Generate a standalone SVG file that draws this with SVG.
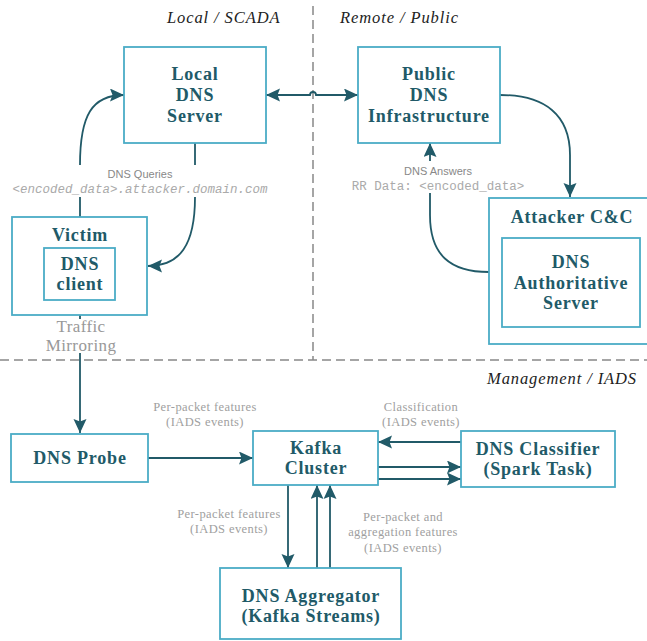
<svg xmlns="http://www.w3.org/2000/svg" width="647" height="641" viewBox="0 0 647 641">
<defs>
<marker id="ah" markerUnits="userSpaceOnUse" markerWidth="16" markerHeight="14" refX="14" refY="6.5" orient="auto-start-reverse">
<path d="M0,0 L14,6.5 L0,13 L2.5,6.5 z" fill="#215a68"/>
</marker>
<style>
.box{fill:#fff;stroke:#4bacc6;stroke-width:1.8}
.nt{font-family:"Liberation Serif",serif;font-weight:bold;font-size:18px;fill:#215a68;text-anchor:middle;letter-spacing:0.8px}
.region{font-family:"Liberation Serif",serif;font-style:italic;font-size:16.5px;fill:#222;letter-spacing:0.9px}
.gl{font-family:"Liberation Serif",serif;font-size:12.5px;fill:#a0a0a0;text-anchor:middle;letter-spacing:0.4px}
.gb{font-family:"Liberation Serif",serif;font-size:17px;fill:#999;text-anchor:middle;letter-spacing:0.4px}
.gs{font-family:"Liberation Sans",sans-serif;font-size:11px;fill:#888;text-anchor:middle}
.gm{font-family:"Liberation Mono",monospace;font-size:12.5px;fill:#aaa;text-anchor:middle}
.conn{fill:none;stroke:#215a68;stroke-width:1.8}
.div{fill:none;stroke:#888;stroke-width:1.5;stroke-dasharray:9 5}
</style>
</defs>
<rect width="647" height="641" fill="#fff"/>
<g id="dividers">
<path class="div" d="M313,6 V360"/>
<path class="div" d="M0,360 H647"/>
</g>
<g id="region-labels">
<text class="region" x="167" y="23">Local / SCADA</text>
<text class="region" x="340" y="23">Remote / Public</text>
<text class="region" x="487" y="384">Management / IADS</text>
</g>
<g id="connectors">
<path class="conn" d="M266,95 H310 A3,3 0 0 1 316,95 H358" marker-start="url(#ah)" marker-end="url(#ah)"/>
<path class="conn" d="M80,217 V197"/>
<path class="conn" d="M80,165 C80,115 92,95 124,95" marker-end="url(#ah)"/>
<path class="conn" d="M195,143 V165"/>
<path class="conn" d="M195,197 C195,245 180,266 148,266" marker-end="url(#ah)"/>
<path class="conn" d="M500,95 C545,95 570,115 570,155 V197" marker-end="url(#ah)"/>
<path class="conn" d="M489,272 C450,272 430,255 430,215 V193"/>
<path class="conn" d="M430,161 V143" marker-end="url(#ah)"/>
<path class="conn" d="M80,315 V319"/>
<path class="conn" d="M80,353 V433" marker-end="url(#ah)"/>
<path class="conn" d="M148,458 H253" marker-end="url(#ah)"/>
<path class="conn" d="M461,442 H378" marker-end="url(#ah)"/>
<path class="conn" d="M378,467 H461" marker-end="url(#ah)"/>
<path class="conn" d="M378,479 H461" marker-end="url(#ah)"/>
<path class="conn" d="M288,485 V568" marker-end="url(#ah)"/>
<path class="conn" d="M317,568 V485" marker-end="url(#ah)"/>
<path class="conn" d="M330,568 V485" marker-end="url(#ah)"/>
</g>
<g id="connector-labels">
<text class="gs" x="140" y="178">DNS Queries</text>
<text class="gm" x="140" y="193" font-style="italic">&lt;encoded_data&gt;.attacker.domain.com</text>
<text class="gs" x="438" y="175">DNS Answers</text>
<text class="gm" x="438" y="190">RR Data: &lt;encoded_data&gt;</text>
<text class="gb" x="81" y="332">Traffic</text>
<text class="gb" x="81" y="351">Mirroring</text>
<text class="gl" x="205" y="411">Per-packet features</text>
<text class="gl" x="205" y="426">(IADS events)</text>
<text class="gl" x="421" y="411">Classification</text>
<text class="gl" x="421" y="426">(IADS events)</text>
<text class="gl" x="229" y="518">Per-packet features</text>
<text class="gl" x="229" y="533">(IADS events)</text>
<text class="gl" x="403" y="521">Per-packet and</text>
<text class="gl" x="403" y="536">aggregation features</text>
<text class="gl" x="403" y="552">(IADS events)</text>
</g>
<g id="local-dns">
<rect class="box" x="124" y="47" width="142" height="96"/>
<text class="nt" x="195" y="80">Local</text>
<text class="nt" x="195" y="101">DNS</text>
<text class="nt" x="195" y="122">Server</text>
</g>
<g id="public-dns">
<rect class="box" x="358" y="47" width="142" height="96"/>
<text class="nt" x="429" y="80">Public</text>
<text class="nt" x="429" y="101">DNS</text>
<text class="nt" x="429" y="122">Infrastructure</text>
</g>
<g id="victim">
<rect class="box" x="12" y="217" width="135" height="98"/>
<text class="nt" x="80" y="241">Victim</text>
<rect class="box" x="44" y="248" width="71" height="52"/>
<text class="nt" x="80" y="270">DNS</text>
<text class="nt" x="80" y="290">client</text>
</g>
<g id="attacker">
<rect class="box" x="489" y="198" width="170" height="146"/>
<text class="nt" x="572" y="223">Attacker C&amp;C</text>
<rect class="box" x="502" y="238" width="138" height="89"/>
<text class="nt" x="571" y="268">DNS</text>
<text class="nt" x="571" y="289">Authoritative</text>
<text class="nt" x="571" y="309">Server</text>
</g>
<g id="dns-probe">
<rect class="box" x="11" y="434" width="137" height="48"/>
<text class="nt" x="80" y="464">DNS Probe</text>
</g>
<g id="kafka">
<rect class="box" x="253" y="431" width="125" height="54"/>
<text class="nt" x="316" y="454">Kafka</text>
<text class="nt" x="316" y="474">Cluster</text>
</g>
<g id="classifier">
<rect class="box" x="461" y="431" width="154" height="56"/>
<text class="nt" x="538" y="455">DNS Classifier</text>
<text class="nt" x="538" y="475">(Spark Task)</text>
</g>
<g id="aggregator">
<rect class="box" x="220" y="568" width="181" height="71"/>
<text class="nt" x="311" y="602">DNS Aggregator</text>
<text class="nt" x="311" y="622">(Kafka Streams)</text>
</g>
</svg>
